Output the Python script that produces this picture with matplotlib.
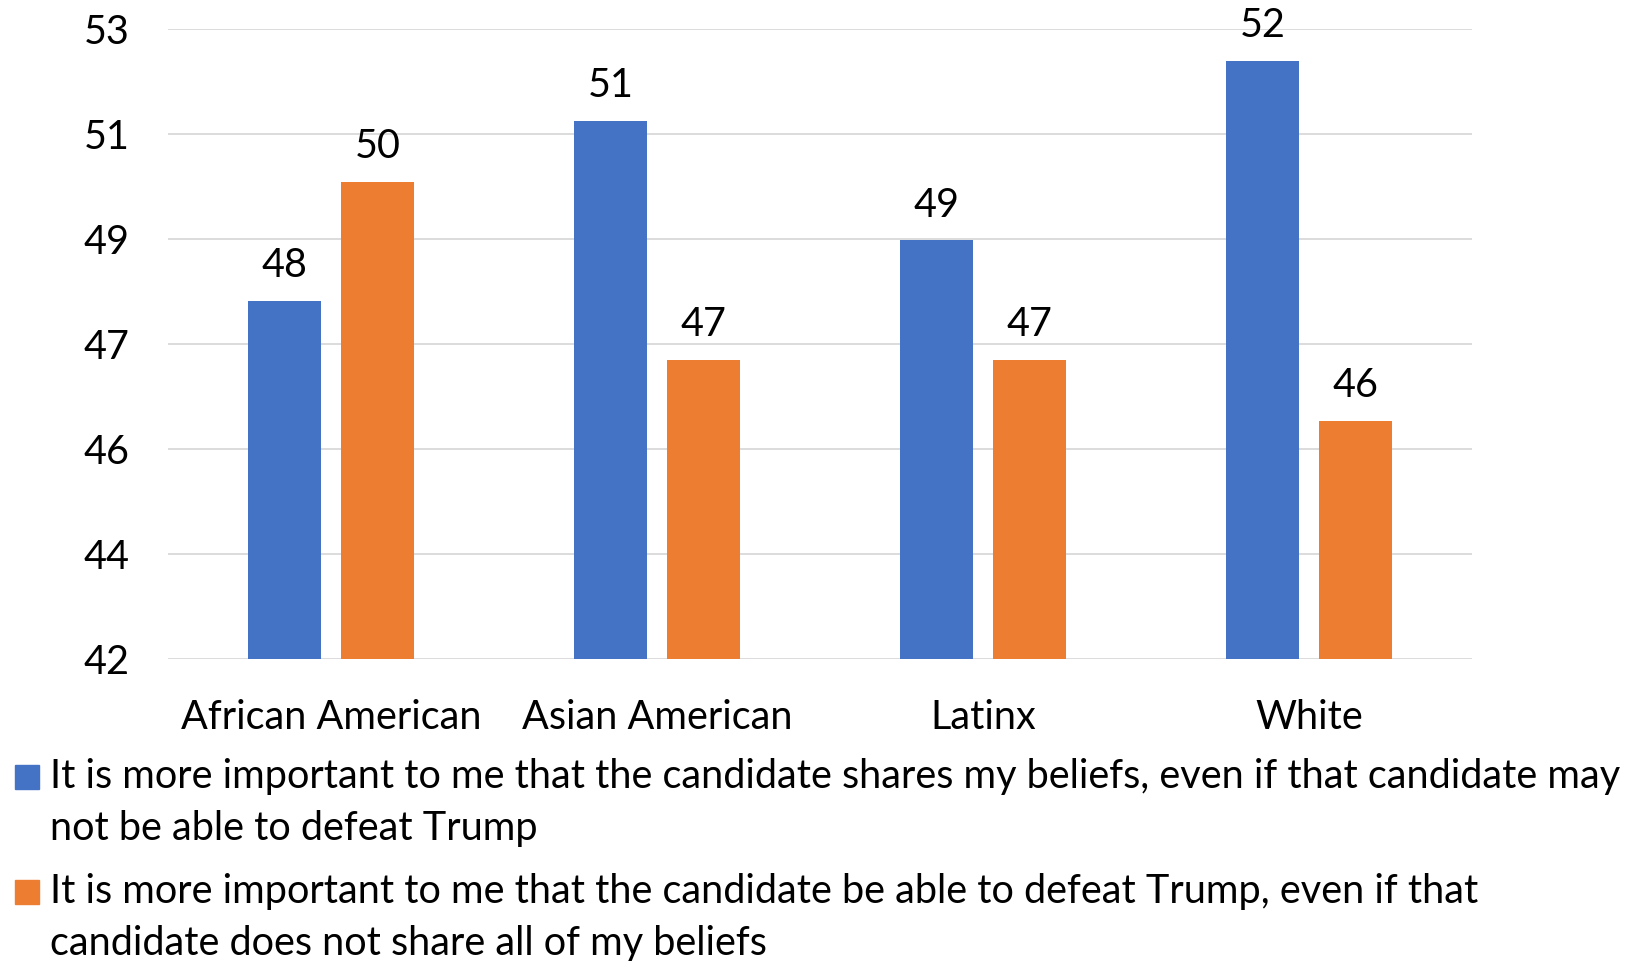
import matplotlib
matplotlib.use("Agg")
import matplotlib.pyplot as plt
import numpy as np
from matplotlib.patches import Rectangle

categories = ["African American", "Asian American", "Latinx", "White"]
beliefs = [48.14, 51.23, 49.18, 52.26]
defeat = [50.19, 47.13, 47.13, 46.09]
series_lines = [
    ["It is more important to me that the candidate shares my beliefs, even if that candidate may",
     "not be able to defeat Trump"],
    ["It is more important to me that the candidate be able to defeat Trump, even if that",
     "candidate does not share all of my beliefs"],
]
y_ticks = [42, 43.8, 45.6, 47.4, 49.2, 51.0, 52.8]
y_tick_labels = ["42", "44", "46", "47", "49", "51", "53"]

BLUE = "#4472C4"
ORANGE = "#ED7D31"
FONT = "Lato"
FS = 28.5

plt.rcParams["font.family"] = [FONT, "DejaVu Sans"]

W, H = 1649, 961
fig = plt.figure(figsize=(W / 100, H / 100), dpi=100)
ax = fig.add_axes([168 / W, 1 - 659.3 / H, (1472 - 168) / W, (659.3 - 29.3) / H])

x = np.arange(len(categories))
bw = 0.224
off = 0.143
b1 = ax.bar(x - off, beliefs, bw, color=BLUE, zorder=3)
b2 = ax.bar(x + off, defeat, bw, color=ORANGE, zorder=3)

for bars, vals in ((b1, beliefs), (b2, defeat)):
    for rect, v in zip(bars, vals):
        ax.annotate(f"{v:.0f}", (rect.get_x() + rect.get_width() / 2, v),
                    xytext=(0, 12), textcoords="offset points",
                    ha="center", va="bottom", fontsize=FS, color="black")

ax.set_xlim(-0.5, 3.5)
ax.set_ylim(42, 52.8)
ax.set_yticks(y_ticks)
ax.set_yticklabels(y_tick_labels, fontsize=FS)
ax.set_xticks(x)
ax.set_xticklabels(categories, fontsize=FS)
ax.tick_params(axis="y", length=0, pad=27.5)
ax.tick_params(axis="x", length=0, pad=28.5)
ax.grid(axis="y", color="#D9D9D9", linewidth=1.3, zorder=0)
for s in ax.spines.values():
    s.set_visible(False)

# legend drawn manually
colors = [BLUE, ORANGE]
square_tops = [765, 880]
baselines = [(788, 840), (903, 955)]
for lines, c, sq, bl in zip(series_lines, colors, square_tops, baselines):
    fig.patches.append(Rectangle((15 / W, 1 - (sq + 24) / H), 24 / W, 24 / H,
                                 transform=fig.transFigure, color=c))
    for line, b in zip(lines, bl):
        fig.text(50 / W, 1 - b / H, line, fontsize=FS, ha="left", va="baseline")

fig.savefig("out.png", dpi=100)
